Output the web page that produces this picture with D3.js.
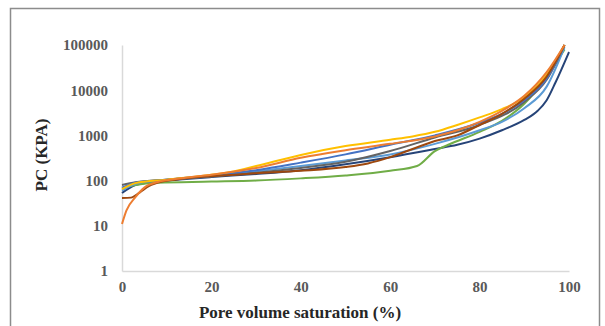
<!DOCTYPE html>
<html>
<head>
<meta charset="utf-8">
<script src="https://cdn.jsdelivr.net/npm/d3@7"></script>
<style>
  body { margin: 0; background: #fff; }
  text { font-family: "Liberation Serif", "Times New Roman", serif; font-weight: bold; }
</style>
</head>
<body>
<div id="chart"></div>
<script>
// x = pore volume saturation (%), y = capillary pressure (kPa)
var xTicks = [0, 20, 40, 60, 80, 100];
var yTicks = [1, 10, 100, 1000, 10000, 100000];

var orangeSat = [0, 1, 3, 5, 8, 12, 20, 30, 40, 50, 60, 70, 75, 80, 85, 90, 95, 99];
var orangePc  = [11, 22, 43, 70, 93, 108, 135, 190, 320, 470, 650, 950, 1300, 2000, 3500, 7500, 25000, 100000];

var yellowSat = [0, 3, 10, 20, 25, 30, 40, 50, 60, 65, 70, 75, 80, 85, 90, 95, 99];
var yellowPc  = [65, 88, 105, 135, 160, 210, 370, 580, 800, 950, 1200, 1700, 2500, 3800, 7000, 22000, 100000];

var slateSat = [0, 3, 10, 20, 30, 40, 50, 60, 70, 80, 85, 90, 95, 99];
var slatePc  = [70, 90, 105, 130, 170, 250, 380, 620, 1000, 1900, 3000, 6000, 18000, 100000];

var graySat = [0, 3, 10, 20, 30, 40, 50, 60, 70, 80, 90, 95, 99];
var grayPc  = [80, 92, 105, 125, 150, 190, 260, 450, 900, 1700, 5500, 17000, 100000];

var brownSat = [0, 2, 4, 6, 9, 12, 20, 30, 40, 50, 55, 60, 65, 70, 75, 80, 85, 90, 95, 99];
var brownPc  = [41, 42, 55, 75, 95, 105, 125, 145, 165, 200, 240, 330, 500, 750, 1000, 1700, 3000, 6500, 20000, 100000];

var lightBlueSat = [0, 3, 8, 20, 30, 40, 50, 60, 70, 80, 85, 90, 95, 99];
var lightBluePc  = [60, 85, 100, 125, 160, 210, 280, 380, 650, 1300, 2000, 4000, 12000, 90000];

var greenSat = [0, 3, 8, 20, 30, 40, 50, 60, 66, 70, 73, 80, 85, 90, 95, 99];
var greenPc  = [68, 80, 90, 95, 100, 112, 130, 165, 210, 450, 620, 1200, 2100, 5000, 20000, 80000];

var darkBlueSat = [0, 3, 8, 15, 20, 30, 40, 50, 60, 70, 75, 80, 85, 90, 93, 95, 97, 100];
var darkBluePc  = [53, 80, 95, 110, 120, 140, 170, 230, 330, 500, 620, 850, 1300, 2200, 3500, 6000, 15000, 70000];

var series = [
  {name: "S1", color: "#264478", sat: darkBlueSat, pc: darkBluePc},
  {name: "S2", color: "#70AD47", sat: greenSat, pc: greenPc},
  {name: "S3", color: "#5B9BD5", sat: lightBlueSat, pc: lightBluePc},
  {name: "S4", color: "#636363", sat: graySat, pc: grayPc},
  {name: "S5", color: "#4472C4", sat: slateSat, pc: slatePc},
  {name: "S6", color: "#FFC000", sat: yellowSat, pc: yellowPc},
  {name: "S7", color: "#9E480E", sat: brownSat, pc: brownPc},
  {name: "S8", color: "#ED7D31", sat: orangeSat, pc: orangePc}
];

var width = 605, height = 326;
var margin = {top: 45, right: 36, bottom: 55, left: 122};

var svg = d3.select("#chart").append("svg")
  .attr("width", width)
  .attr("height", height);

// outer frame (bottom edge runs off the picture)
svg.append("rect")
  .attr("x", 10.5).attr("y", 8.5)
  .attr("width", 589).attr("height", 340)
  .attr("fill", "none")
  .attr("stroke", "#8c8c8c")
  .attr("stroke-width", 1.5);

var x = d3.scaleLinear()
  .domain([0, 100])
  .range([margin.left, 569]);

var y = d3.scaleLog()
  .domain([1, 100000])
  .range([271, margin.top]);

// axes
var xAxis = d3.axisBottom(x).tickValues(xTicks).tickSize(0).tickPadding(10);
var gx = svg.append("g")
  .attr("transform", "translate(0," + y(1) + ")")
  .call(xAxis);

var yAxis = d3.axisLeft(y).tickValues(yTicks).tickSize(0).tickPadding(14)
  .tickFormat(d3.format("d"));
var gy = svg.append("g")
  .attr("transform", "translate(" + x(0) + ",0)")
  .call(yAxis);

[gx, gy].forEach(function(g) {
  g.select(".domain").attr("stroke", "#d9d9d9").attr("stroke-width", 1.5);
  g.selectAll("text")
    .attr("fill", "#595959")
    .style("font-size", "15px");
});

svg.append("text")
  .attr("x", 300)
  .attr("y", 318)
  .attr("text-anchor", "middle")
  .attr("fill", "#262626")
  .style("font-size", "17px")
  .text("Pore volume saturation (%)");

svg.append("text")
  .attr("transform", "translate(47,155) rotate(-90)")
  .attr("text-anchor", "middle")
  .attr("fill", "#262626")
  .style("font-size", "17px")
  .text("PC (KPA)");

var line = d3.line()
  .x(function(d) { return x(d[0]); })
  .y(function(d) { return y(d[1]); })
  .curve(d3.curveMonotoneX);

svg.append("g")
  .selectAll("path")
  .data(series)
  .enter()
  .append("path")
  .attr("fill", "none")
  .attr("stroke", function(s) { return s.color; })
  .attr("stroke-width", 2)
  .attr("d", function(s) {
    return line(d3.zip(s.sat, s.pc));
  });
</script>
</body>
</html>
